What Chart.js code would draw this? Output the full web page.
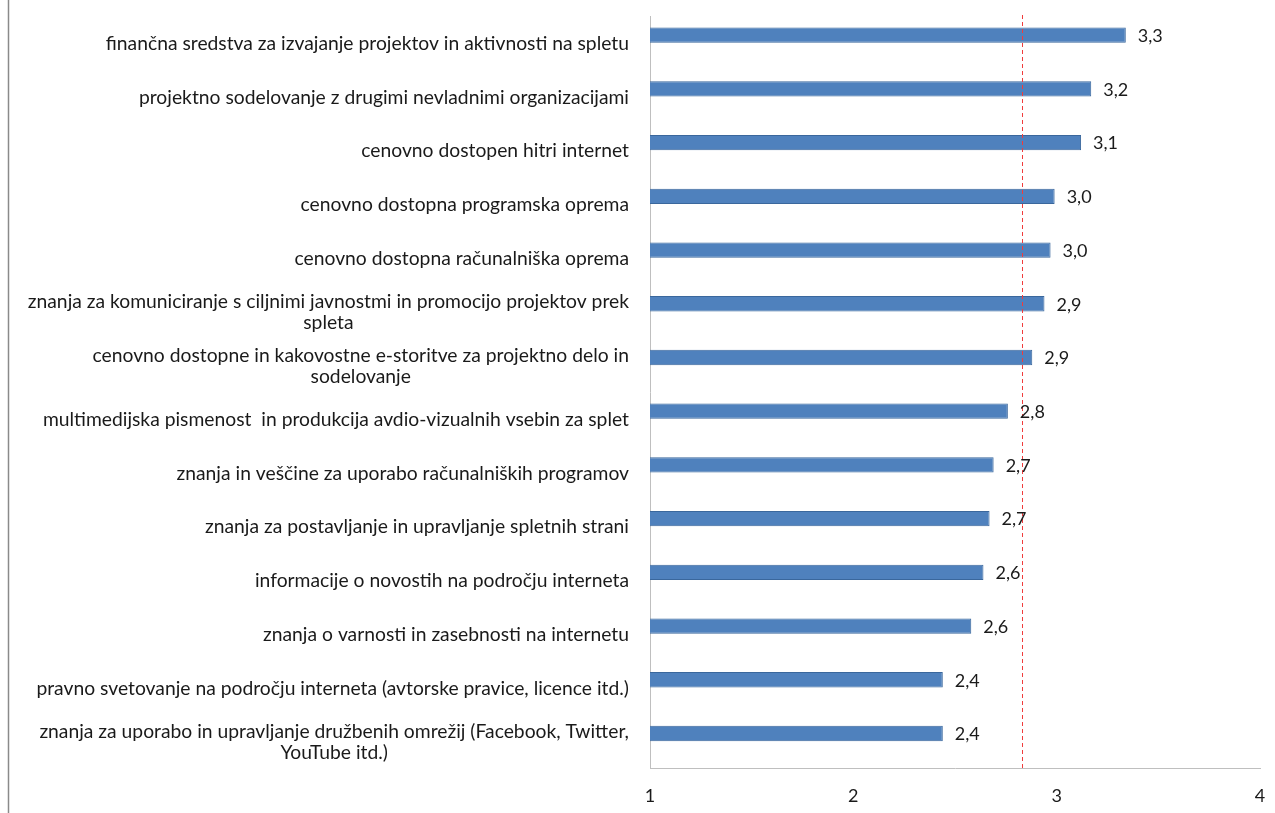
<!DOCTYPE html>
<html>
<head>
<meta charset="utf-8">
<script src="https://cdn.jsdelivr.net/npm/chart.js@4.4.1/dist/chart.umd.min.js"></script>
<style>
  html, body { margin: 0; padding: 0; background: #ffffff; }
  #wrap { width: 1275px; height: 813px; position: relative; }
</style>
</head>
<body>
<div id="wrap"><canvas id="c" width="1275" height="813"></canvas></div>
<script>
// ---- data ----
const categories = [
  "finančna sredstva za izvajanje projektov in aktivnosti na spletu",
  "projektno sodelovanje z drugimi nevladnimi organizacijami",
  "cenovno dostopen hitri internet",
  "cenovno dostopna programska oprema",
  "cenovno dostopna računalniška oprema",
  ["znanja za komuniciranje s ciljnimi javnostmi in promocijo projektov prek", "spleta"],
  ["cenovno dostopne in kakovostne e-storitve za projektno delo in", "sodelovanje"],
  "multimedijska pismenost  in produkcija avdio-vizualnih vsebin za splet",
  "znanja in veščine za uporabo računalniških programov",
  "znanja za postavljanje in upravljanje spletnih strani",
  "informacije o novostih na področju interneta",
  "znanja o varnosti in zasebnosti na internetu",
  "pravno svetovanje na področju interneta (avtorske pravice, licence itd.)",
  ["znanja za uporabo in upravljanje družbenih omrežij (Facebook, Twitter,", "YouTube itd.)"]
];
const values = [3.34, 3.17, 3.12, 2.99, 2.97, 2.94, 2.88, 2.76, 2.69, 2.67, 2.64, 2.58, 2.44, 2.44];
const emptySeries = [null, null, null, null, null, null, null, null, null, null, null, null, null, null];
const referenceValue = 2.83;
const xMin = 1;
const xMax = 4;
const xStep = 1;

// ---- styles ----
const FONT = "Lato, 'Open Sans', sans-serif";
const LABEL_SIZE = 19.3;
const NUM_SIZE = 18;
const TEXT = "#1a1a1a";

const framePlugin = {
  id: 'frame',
  beforeDraw(chart) {
    const ctx = chart.ctx;
    ctx.save();
    ctx.strokeStyle = '#8a8a8a';
    ctx.lineWidth = 1.5;
    ctx.beginPath();
    ctx.moveTo(8.5, 0);
    ctx.lineTo(8.5, chart.height);
    ctx.stroke();
    ctx.restore();
  }
};

const overlayPlugin = {
  id: 'overlay',
  afterDatasetsDraw(chart) {
    const ctx = chart.ctx;
    const xs = chart.scales.x;
    const ys = chart.scales.y;
    const area = chart.chartArea;
    ctx.save();
    // reference line
    const rx = Math.round(xs.getPixelForValue(referenceValue)) + 0.5;
    ctx.strokeStyle = '#f03c3c';
    ctx.lineWidth = 1;
    ctx.setLineDash([4, 3]);
    ctx.beginPath();
    ctx.moveTo(rx, area.top - 1);
    ctx.lineTo(rx, area.bottom);
    ctx.stroke();
    ctx.setLineDash([]);

    // data labels
    ctx.fillStyle = TEXT;
    ctx.font = NUM_SIZE + "px " + FONT;
    ctx.textAlign = 'left';
    ctx.textBaseline = 'middle';
    const meta = chart.getDatasetMeta(0);
    meta.data.forEach((bar, i) => {
      const txt = values[i].toFixed(1).replace('.', ',');
      ctx.fillText(txt, bar.x + 12, bar.y + 1);
    });

    // category labels
    ctx.font = LABEL_SIZE + "px " + FONT;
    const rightX = area.left - 21;
    const lh = 21;
    categories.forEach((lab, i) => {
      const lines = Array.isArray(lab) ? lab : [lab];
      const cy = ys.getPixelForValue(i) + 1;
      if (lines.length === 1) {
        ctx.textAlign = 'right';
        ctx.fillText(lines[0], rightX, cy);
      } else {
        let w = 0;
        lines.forEach(l => { w = Math.max(w, ctx.measureText(l).width); });
        const cx = rightX - w / 2;
        ctx.textAlign = 'center';
        lines.forEach((l, k) => {
          ctx.fillText(l, cx, cy + (k - (lines.length - 1) / 2) * lh);
        });
      }
    });
    ctx.restore();
  }
};

new Chart(document.getElementById('c'), {
  type: 'bar',
  data: {
    labels: categories,
    datasets: [
      {
        data: values,
        backgroundColor: '#4f81bd',
        borderColor: '#3a679c',
        borderWidth: 1,
        borderSkipped: false,
        categoryPercentage: 0.57,
        barPercentage: 1.0
      },
      {
        data: emptySeries,
        backgroundColor: 'rgba(0,0,0,0)',
        categoryPercentage: 0.57,
        barPercentage: 1.0
      }
    ]
  },
  options: {
    indexAxis: 'y',
    responsive: false,
    animation: false,
    layout: { padding: { left: 650, right: 15, top: 16, bottom: 0 } },
    plugins: { legend: { display: false }, tooltip: { enabled: false } },
    scales: {
      x: {
        type: 'linear',
        min: xMin,
        max: xMax,
        ticks: {
          stepSize: xStep,
          font: { family: FONT, size: NUM_SIZE },
          color: TEXT,
          padding: 17
        },
        grid: { display: false, drawTicks: false },
        border: { display: true, color: '#bfbfbf', width: 1 },
        afterFit(scale) {
          scale.height = 45;
          scale.paddingLeft = 0;
          scale.paddingRight = 0;
        }
      },
      y: {
        type: 'category',
        ticks: { display: false },
        grid: { display: false, drawTicks: false },
        border: { display: true, color: '#bfbfbf', width: 1 },
        afterFit(scale) { scale.width = 0; }
      }
    }
  },
  plugins: [framePlugin, overlayPlugin]
});
</script>
</body>
</html>
